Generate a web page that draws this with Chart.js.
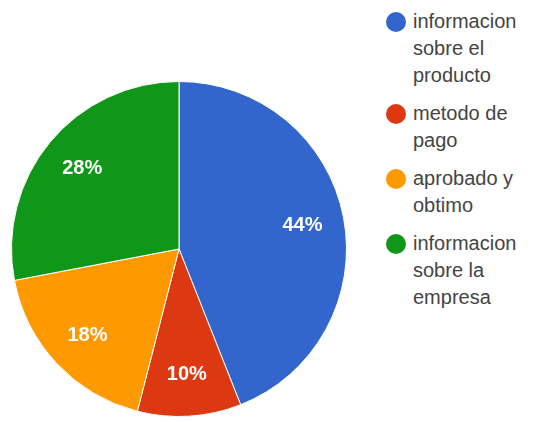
<!DOCTYPE html>
<html>
<head>
<meta charset="utf-8">
<script src="https://cdn.jsdelivr.net/npm/chart.js@4"></script>
<style>
  html, body { margin: 0; padding: 0; background: #fff; }
  body { width: 533px; height: 422px; position: relative; overflow: hidden; font-family: "Liberation Sans", Arial, sans-serif; }
  #wrap { position: absolute; left: 0; top: 0; width: 358px; height: 422px; }
  #legend { position: absolute; left: 385px; top: 8px; width: 148px; }
  .item { position: relative; padding-left: 28px; margin-bottom: 11px; font-size: 20px; line-height: 27px; color: #444; width: 118px; }
  .dot { position: absolute; left: 1px; top: 4px; width: 20px; height: 20px; border-radius: 50%; }
</style>
</head>
<body>
<div id="wrap"><canvas id="pieChart"></canvas></div>
<div id="legend"></div>
<script>
"use strict"

// values
let labels = ["informacion sobre el producto", "metodo de pago", "aprobado y obtimo", "informacion sobre la empresa"];
let values = [44, 10, 18, 28];
let colors = ["#3366cc", "#dc3912", "#ff9900", "#109618"];

// legend on the right, built by hand so the labels wrap like the original
let legend = document.getElementById('legend');
for (var i = 0; i < labels.length; i++) {
  let item = document.createElement('div');
  item.className = 'item';
  item.innerHTML = '<span class="dot" style="background:' + colors[i] + '"></span>' + labels[i];
  legend.appendChild(item);
}

// percent labels inside the slices
const sliceLabels = {
  id: 'sliceLabels',
  afterDatasetsDraw(chart) {
    let ctx = chart.ctx;
    let meta = chart.getDatasetMeta(0);
    let total = values.reduce((a, b) => a + b, 0);
    ctx.save();
    ctx.fillStyle = '#ffffff';
    ctx.font = 'bold 20px "Liberation Sans", Arial, sans-serif';
    ctx.textAlign = 'center';
    ctx.textBaseline = 'middle';
    meta.data.forEach(function (arc, idx) {
      let p = arc.getProps(['x', 'y', 'startAngle', 'endAngle', 'outerRadius'], true);
      let mid = (p.startAngle + p.endAngle) / 2;
      let r = p.outerRadius * 0.75;
      let pct = Math.round(values[idx] / total * 100) + '%';
      ctx.fillText(pct, p.x + Math.cos(mid) * r, p.y + Math.sin(mid) * r);
    });
    ctx.restore();
  }
};

var ctxP = document.getElementById("pieChart").getContext('2d');
var myPieChart = new Chart(ctxP, {
  type: 'pie',
  data: {
    labels: labels,
    datasets: [{
      data: values,
      backgroundColor: colors,
      borderColor: '#ffffff',
      borderWidth: 1
    }]
  },
  options: {
    responsive: true,
    maintainAspectRatio: false,
    animation: false,
    layout: {
      padding: { top: 81, bottom: 5, left: 11, right: 11 }
    },
    plugins: {
      legend: { display: false },
      tooltip: { enabled: false }
    }
  },
  plugins: [sliceLabels]
});
</script>
</body>
</html>
